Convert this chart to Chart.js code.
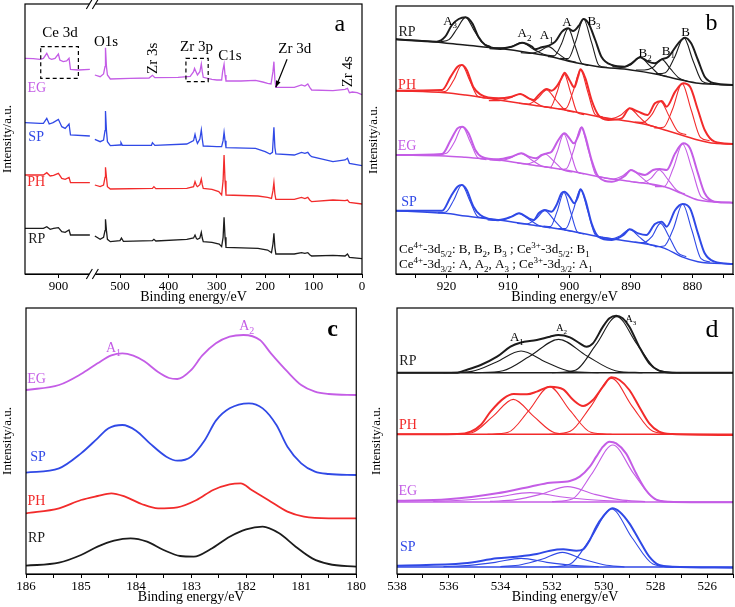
<!DOCTYPE html>
<html>
<head>
<meta charset="utf-8">
<script src="https://cdn.jsdelivr.net/npm/chart.js@4.4.1/dist/chart.umd.min.js"></script>
<style>
body { margin: 0; background: #fff; width: 735px; height: 607px; position: relative; overflow: hidden; }
canvas { position: absolute; }
</style>
</head>
<body>
<canvas id="pa" style="left:0;top:0" width="367" height="306"></canvas>
<canvas id="pb" style="left:366px;top:0" width="369" height="306"></canvas>
<canvas id="pc" style="left:0;top:300px" width="367" height="306"></canvas>
<canvas id="pd" style="left:366px;top:300px" width="369" height="306"></canvas>
<script>
// colours of the four samples
const RP_C = '#1c1c1c', PH_C = '#f22b2b', EG_C = '#c45de6', SP_C = '#3049e6';

// ---- panel a : survey spectra, [binding energy, intensity] ----
const surveyTicks = [900, 500, 450, 400, 350, 300, 250, 200, 150, 100, 50, 0];
const egLeft = [[969,647],[952,646],[938,644],[931,647],[924,662],[919,647],[914,644],[907,647],[900,660],[897,642],[890,637],[883,639],[878,647],[875,614],[859,612],[835,614]];
const egRight = [[552,597],[541,592],[534,600],[531,622],[530,679],[528,622],[526,597],[520,585],[480,587],[440,588],[433,596],[428,589],[380,590],[355,593],[348,607],[346,617],[343,607],[340,597],[335,607],[332,630],[330,607],[328,590],[310,584],[300,582],[290,582],[288,607],[285,629],[283,597],[281,579],[250,579],[220,581],[205,576],[195,572],[188,570],[184,607],[182,637],[180,582],[178,560],[140,560],[125,567],[118,564],[112,570],[108,560],[104,552],[60,550],[35,554],[30,557],[26,544],[20,546],[10,544],[0,538]];
const spLeft = [[969,454],[938,452],[931,452],[924,467],[919,450],[911,454],[900,464],[893,442],[886,437],[878,450],[875,417],[835,414]];
const spRight = [[552,404],[541,397],[534,402],[531,430],[530,489],[528,430],[526,397],[520,385],[500,387],[498,394],[495,386],[435,386],[433,394],[428,386],[362,390],[348,400],[345,419],[342,400],[340,392],[335,405],[332,432],[330,405],[328,384],[310,383],[300,382],[290,382],[287,400],[285,425],[283,400],[281,379],[220,377],[200,367],[190,360],[185,365],[182,440],[180,380],[178,360],[140,357],[125,365],[118,362],[112,365],[108,357],[104,352],[60,337],[35,342],[30,347],[26,332],[0,325]];
const phLeft = [[969,297],[931,297],[924,304],[917,294],[910,296],[900,302],[893,287],[886,284],[878,290],[875,274],[835,274]];
const phRight = [[552,267],[541,262],[534,267],[531,290],[530,320],[528,290],[526,262],[520,255],[433,257],[430,262],[426,256],[362,257],[348,262],[345,277],[342,265],[340,262],[335,268],[332,285],[330,268],[328,257],[310,254],[296,247],[290,237],[287,280],[285,357],[283,280],[281,237],[215,234],[195,230],[187,227],[184,250],[182,274],[180,240],[178,224],[140,224],[125,230],[118,226],[112,230],[108,222],[104,217],[60,222],[35,220],[30,222],[26,215],[0,210]];
const rpLeft = [[969,137],[931,137],[924,142],[917,134],[910,137],[900,139],[893,127],[886,125],[878,132],[875,117],[835,117]];
const rpRight = [[552,114],[541,104],[534,110],[531,130],[530,164],[528,130],[526,104],[520,97],[500,100],[497,108],[493,98],[433,100],[430,104],[426,99],[362,104],[348,108],[345,117],[342,106],[340,104],[335,108],[332,125],[330,108],[328,97],[310,95],[295,90],[290,82],[287,110],[285,170],[283,110],[281,80],[215,77],[195,72],[187,64],[184,90],[182,122],[180,80],[178,60],[140,60],[125,64],[118,62],[112,64],[108,58],[104,54],[60,56],[35,54],[30,60],[26,50],[0,46]];

// ---- panel b : Ce 3d, background, envelope and fitted peaks (A3,A2,A1,A,B3,B2,B1,B) ----
const ceTicks = [925, 920, 915, 910, 905, 900, 895, 890, 885, 880, 875];
const ceRpBg = [[928.2,704],[922.3,697],[917,687],[911.5,677],[906,662],[903,652],[898.5,632],[895.3,622],[890,612],[886,600],[881.8,582],[879,572],[873.4,567]];
const ceRpEnv = [[928.2,704],[921.6,697],[920.2,712],[919.1,747],[918,765],[916.9,770],[915.8,752],[914.8,712],[913.7,687],[911.5,677],[909.4,682],[907.7,694],[906.1,682],[905.6,674],[904.5,680],[903.4,685],[902.3,697],[901.2,727],[900.2,737],[899.4,729],[898.5,744],[897.7,765],[896.9,752],[895.8,702],[894.8,652],[893.1,627],[891,622],[889.9,632],[888.5,650],[887.2,637],[886.1,632],[885,644],[883.9,652],[882.3,692],[881.2,709],[880.2,692],[879.1,642],[878,592],[876.4,572],[873.4,567]];
const ceRpPeaks = [
  [[921,697],[919.6,703],[918.3,735],[916.9,770],[915.5,731],[914.2,695],[912.8,682]],
  [[913,676],[911.2,674],[909.5,682],[907.7,694],[905.9,675],[904.2,659],[902.5,654]],
  [[907.9,664],[906.4,662],[904.9,668],[903.4,682],[901.9,662],[900.4,643],[898.9,635]],
  [[903.5,652],[902.4,655],[901.3,690],[900.2,737],[899.1,686],[898,632],[896.9,626]],
  [[901.5,647],[900.2,646],[899,697],[897.7,765],[896.4,695],[895.2,626],[893.9,620]],
  [[893,622],[891.5,620],[890,628],[888.5,650],[887,626],[885.5,600],[884,592]],
  [[889.2,612],[887.8,612],[886.4,620],[885,644],[883.6,616],[882.2,588],[880.8,578]],
  [[885.9,601],[884.4,604],[882.9,650],[881.4,709],[879.9,640],[878.4,578],[876.9,571]]
];
const cePhBg = [[928.2,550],[920.2,544],[916.9,537],[911.5,522],[906.1,507],[900.7,492],[895.3,472],[889.9,457],[887.2,447],[884.5,432],[881.8,417],[879.1,402],[876.4,392],[873.4,390]];
const cePhEnv = [[928.2,550],[920.7,552],[919.3,592],[918.2,622],[917.5,627],[916.7,612],[915.6,560],[914.5,539],[911.5,527],[909.4,532],[908,540],[906.6,527],[905.8,522],[905,537],[903.7,555],[902.9,550],[902.1,562],[901,597],[900.8,604],[900,582],[899.2,560],[898.6,592],[898.2,614],[897.4,587],[896.4,522],[895.3,477],[893.7,462],[891.5,467],[890.2,497],[888.8,487],[887.3,477],[886.1,512],[885,519],[884.2,502],[882.8,547],[881.5,572],[880.4,562],[879.1,492],[878,432],[876.4,397],[873.4,390]];
const cePhPeaks = [
  [[921.4,545],[920.1,548],[918.8,582],[917.5,627],[916.2,580],[914.9,533],[913.6,528]],
  [[913.1,520],[911.4,520],[909.7,528],[908,540],[906.3,524],[904.6,505],[902.9,498]],
  [[908.2,512],[906.7,510],[905.2,526],[903.7,552],[902.2,522],[900.7,492],[899.2,486]],
  [[904.2,502],[903.1,500],[902,546],[900.9,602],[899.8,544],[898.7,484],[897.6,478]],
  [[901.8,495],[900.6,496],[899.4,548],[898.2,612],[897,545],[895.8,478],[894.6,472]],
  [[894.7,468],[893.2,466],[891.7,476],[890.2,497],[888.7,472],[887.2,448],[885.7,440]],
  [[889.4,456],[888,455],[886.6,478],[885.2,518],[883.8,474],[882.4,428],[881,418]],
  [[886.2,438],[884.7,440],[883.2,496],[881.7,572],[880.2,492],[878.7,410],[877.2,400]]
];
const ceEgBg = [[928.2,357],[920.2,354],[916.9,350],[911.5,342],[906.1,327],[900.7,312],[895.3,292],[889.9,277],[884.5,262],[881.8,242],[879.1,222],[873.4,214]];
const ceEgEnv = [[928.2,357],[920.7,360],[919.3,402],[918.2,437],[917.4,442],[916.4,422],[915.3,372],[914.3,352],[911.5,344],[909.4,352],[907.8,362],[906.6,352],[905.5,347],[904.5,357],[903.7,362],[902.9,367],[901.8,402],[900.8,422],[900,407],[899.3,392],[898.5,417],[898,440],[897.4,412],[896.4,342],[895.3,292],[893.1,277],[891,294],[890,312],[888.8,302],[887.7,297],[886.4,312],[885.3,315],[884.2,312],[882.8,362],[881.5,392],[880.4,377],[879.1,302],[878,242],[876.4,217],[873.4,214]];
const ceEgPeaks = [
  [[921.3,358],[920,362],[918.7,396],[917.4,442],[916.1,395],[914.8,347],[913.5,343]],
  [[913,342],[911.3,340],[909.6,348],[907.9,362],[906.2,343],[904.5,324],[902.8,318]],
  [[908.5,333],[907,330],[905.5,340],[904,360],[902.5,338],[901,312],[899.5,306]],
  [[904.2,322],[903.1,320],[902,366],[900.9,420],[899.8,364],[898.7,306],[897.6,300]],
  [[901.7,314],[900.5,316],[899.3,372],[898.1,440],[896.9,370],[895.7,298],[894.5,290]],
  [[894.4,288],[892.9,285],[891.4,294],[889.9,312],[888.4,292],[886.9,270],[885.4,264]],
  [[889.6,276],[888.2,274],[886.8,286],[885.4,312],[884,284],[882.6,252],[881.2,240]],
  [[886.1,262],[884.6,262],[883.1,318],[881.6,390],[880.1,316],[878.6,232],[877.1,220]]
];
const ceSpBg = [[928.2,190],[920.2,182],[916.9,174],[911.5,162],[906.1,147],[900.7,132],[895.3,112],[889.9,97],[884.5,77],[881.8,52],[879.1,37],[873.4,30]];
const ceSpEnv = [[928.2,190],[920.7,190],[919.3,232],[918.2,262],[917.5,267],[916.7,252],[915.6,202],[914.5,177],[911.5,162],[909.4,172],[908.2,182],[906.6,167],[905.8,162],[905,182],[904,192],[902.9,187],[902.1,207],[901.3,242],[900.8,247],[900,232],[899.2,212],[898.6,232],[898.2,254],[897.4,222],[896.4,152],[895.3,112],[893.1,102],[891.2,117],[890.2,134],[888.8,122],[887.5,117],[886.1,150],[885,157],[884.2,142],[882.8,192],[881.6,210],[880.4,197],[879.1,122],[878,62],[876.4,37],[873.4,30]];
const ceSpPeaks = [
  [[921.4,184],[920.1,186],[918.8,222],[917.5,267],[916.2,220],[914.9,172],[913.6,168]],
  [[913.3,162],[911.6,160],[909.9,168],[908.2,182],[906.5,163],[904.8,144],[903.1,138]],
  [[908.5,152],[907,150],[905.5,164],[904,190],[902.5,162],[901,134],[899.5,128]],
  [[904.2,144],[903.1,142],[902,188],[900.9,245],[899.8,186],[898.7,126],[897.6,120]],
  [[901.8,136],[900.6,136],[899.4,190],[898.2,254],[897,188],[895.8,118],[894.6,110]],
  [[894.7,110],[893.2,106],[891.7,115],[890.2,134],[888.7,112],[887.2,90],[885.7,82]],
  [[889.4,96],[888,94],[886.6,112],[885.2,152],[883.8,112],[882.4,64],[881,52]],
  [[886.1,82],[884.6,84],[883.1,136],[881.6,210],[880.1,132],[878.6,46],[877.1,36]]
];

// ---- panel c : Zr 3d ----
const zrTicks = [186, 185.5, 185, 184.5, 184, 183.5, 183, 182.5, 182, 181.5, 181, 180.5, 180];
const zrEG = [[186,552],[185.4,567],[185,600],[184.7,632],[184.45,656],[184.25,662],[184.05,655],[183.85,638],[183.6,606],[183.4,588],[183.25,585],[183,612],[182.8,655],[182.55,692],[182.3,712],[182.05,717],[181.75,702],[181.55,662],[181.25,607],[181,567],[180.75,547],[180.5,540],[180,537]];
const zrSP = [[186,304],[185.4,317],[185,362],[184.7,407],[184.5,437],[184.25,447],[184,430],[183.75,392],[183.45,352],[183.25,340],[183,352],[182.75,402],[182.55,460],[182.3,497],[181.95,512],[181.7,497],[181.45,447],[181.25,382],[181,332],[180.75,307],[180.5,300],[180,297]];
const zrPH = [[186,182],[185.4,197],[185,222],[184.7,234],[184.45,242],[184.2,232],[183.9,210],[183.6,197],[183.25,200],[182.9,222],[182.6,252],[182.3,269],[182.1,272],[181.9,252],[181.6,222],[181.25,187],[180.95,172],[180.5,167],[180,167]];
const zrRP = [[186,25],[185.4,34],[185,57],[184.7,82],[184.4,100],[184.1,107],[183.8,97],[183.5,72],[183.2,54],[182.95,52],[182.65,74],[182.3,112],[182,134],[181.7,142],[181.4,122],[181.1,82],[180.8,47],[180.5,30],[180,22]];

// ---- panel d : O 1s, envelope, peaks (A1,A2,A3) and flat baselines ----
const oTicks = [538, 537, 536, 535, 534, 533, 532, 531, 530, 529, 528, 527, 526, 525];
const oBase = [604, 419, 216, 21]; // RP, PH, EG, SP
const oRpEnv = [[538,604],[535.66,604],[535.4,610],[534.76,627],[534.13,652],[533.61,682],[533.23,694],[532.59,702],[532.08,712],[531.76,717],[531.31,710],[530.93,692],[530.67,682],[530.42,692],[530.03,742],[529.78,767],[529.52,775],[529.27,767],[529.01,742],[528.63,682],[528.24,632],[527.86,610],[527.35,604],[525,604]];
const oRpPeaks = [
  [[536.2,604],[535.1,608],[534.15,636],[533.2,669],[532.25,636],[531.3,608],[530.2,604]],
  [[535,604],[533.9,610],[532.85,654],[531.75,704],[530.65,654],[529.55,610],[528.5,604]],
  [[532,604],[531.1,611],[530.3,688],[529.5,772],[528.7,688],[527.9,611],[527,604]]
];
const oPhEnv = [[538,419],[535.66,420],[535.15,427],[534.76,447],[534.38,487],[533.87,527],[533.49,540],[532.97,539],[532.59,547],[532.08,562],[531.57,554],[531.18,522],[530.8,504],[530.42,522],[530.03,562],[529.71,590],[529.39,582],[529.01,552],[528.63,502],[528.24,452],[527.86,427],[527.35,420],[525,417]];
const oPhPeaks = [
  [[535.9,419],[535.1,424],[534.3,472],[533.5,524],[532.7,472],[531.9,424],[531.1,419]],
  [[534.5,419],[533.7,425],[532.9,490],[532.1,562],[531.3,490],[530.5,425],[529.7,419]],
  [[532.1,419],[531.3,428],[530.5,503],[529.7,587],[528.9,503],[528.1,428],[527.3,419]]
];
const oEgEnv = [[538,220],[536.04,224],[534.13,242],[532.85,262],[532.08,274],[531.31,279],[530.93,292],[530.54,322],[530.29,352],[530.03,382],[529.78,397],[529.52,392],[529.14,362],[528.75,302],[528.37,252],[527.99,224],[527.48,217],[525,215]];
const oEgPeaks = [
  [[536.6,218],[535.35,222],[534.1,231],[532.85,244],[531.6,231],[530.35,222],[529.1,218]],
  [[534.4,218],[533.4,223],[532.4,240],[531.4,262],[530.4,240],[529.4,223],[528.4,217]],
  [[532,217],[531.2,226],[530.45,302],[529.65,387],[528.85,302],[528.05,226],[527.3,216]]
];
const oSpEnv = [[538,25],[535.4,32],[534.13,47],[533.36,52],[532.59,60],[532.08,70],[531.57,74],[531.06,70],[530.8,74],[530.54,102],[530.29,142],[530.03,172],[529.67,197],[529.39,187],[529.01,152],[528.63,102],[528.24,52],[527.86,27],[527.35,22],[525,19]];
const oSpPeaks = [
  [[536.2,22],[535.2,26],[534.2,35],[533.2,47],[532.2,35],[531.2,26],[530.2,22]],
  [[534,22],[533.2,28],[532.4,44],[531.6,65],[530.8,44],[530,28],[529.2,21]],
  [[532.1,21],[531.3,30],[530.5,108],[529.7,195],[528.9,108],[528.1,30],[527.3,20]]
];

Chart.defaults.font.family = '"Liberation Serif", "Times New Roman", serif';
Chart.defaults.color = '#000';

const FONT = '"Liberation Serif", serif';

// the survey axis is broken between ~835 and ~552 eV
function brk(e) {
  return e >= 700 ? 969 - e : 696.3 - e;
}

function pts(arr, fx) {
  return arr.map(p => ({ x: fx ? fx(p[0]) : p[0], y: p[1] }));
}

function line(arr, color, width, smooth, fx) {
  return {
    data: pts(arr, fx),
    borderColor: color,
    borderWidth: width,
    pointRadius: 0,
    fill: false,
    tension: smooth ? 0.4 : 0,
    cubicInterpolationMode: smooth ? 'monotone' : 'default'
  };
}

// text with _sub and ^sup parts, centred (or left aligned) on x, y
function rich(ctx, parts, x, y, size, color, align) {
  ctx.save();
  ctx.fillStyle = color;
  ctx.textBaseline = 'alphabetic';
  ctx.textAlign = 'left';
  const segs = parts.map(p => {
    let k = 'n', t = p;
    if (p[0] === '_') { k = 'b'; t = p.slice(1); }
    else if (p[0] === '^') { k = 'p'; t = p.slice(1); }
    const fs = k === 'n' ? size : Math.round(size * 0.68);
    ctx.font = fs + 'px ' + FONT;
    return { t: t, k: k, fs: fs, w: ctx.measureText(t).width };
  });
  const total = segs.reduce((a, s) => a + s.w, 0);
  let cx = align === 'left' ? x : x - total / 2;
  for (const s of segs) {
    ctx.font = s.fs + 'px ' + FONT;
    const dy = s.k === 'b' ? size * 0.3 : (s.k === 'p' ? -size * 0.4 : 0);
    ctx.fillText(s.t, cx, y + size * 0.35 + dy);
    cx += s.w;
  }
  ctx.restore();
}

function label(ctx, text, x, y, size, color, rot, weight) {
  ctx.save();
  ctx.font = (weight || '') + ' ' + size + 'px ' + FONT;
  ctx.fillStyle = color;
  ctx.textAlign = 'center';
  ctx.textBaseline = 'middle';
  ctx.translate(x, y);
  if (rot) ctx.rotate(rot);
  ctx.fillText(text, 0, 0);
  ctx.restore();
}

function frame(chart) {
  const a = chart.chartArea, ctx = chart.ctx;
  ctx.save();
  ctx.strokeStyle = '#000';
  ctx.lineWidth = 1.2;
  ctx.strokeRect(a.left, a.top, a.right - a.left, a.bottom - a.top);
  ctx.restore();
}

function panel(id, cfg) {
  return new Chart(document.getElementById(id), {
    type: 'line',
    data: { datasets: cfg.datasets },
    options: {
      responsive: false,
      animation: false,
      devicePixelRatio: 1,
      layout: { padding: { top: cfg.pad[0], right: cfg.pad[1], bottom: 0, left: 0 } },
      plugins: { legend: { display: false }, tooltip: { enabled: false } },
      scales: {
        x: {
          type: 'linear', min: cfg.xmin, max: cfg.xmax, reverse: cfg.rev,
          afterBuildTicks: s => { s.ticks = cfg.ticks.map(v => ({ value: v })); },
          afterFit: s => { s.height = cfg.xh; },
          ticks: { autoSkip: false, maxRotation: 0, padding: 1, color: '#000', font: { size: 13 }, callback: cfg.tickLabel },
          grid: { drawOnChartArea: false, drawTicks: true, tickLength: 4, color: '#000' },
          border: { display: true, color: '#000' },
          title: { display: true, text: 'Binding energy/eV', color: '#000', font: { size: 14 }, padding: 0 }
        },
        y: {
          min: 0, max: cfg.ymax,
          afterFit: s => { s.width = cfg.yw; },
          ticks: { display: false },
          grid: { display: false },
          border: { display: false },
          title: { display: true, text: 'Intensity/a.u.', color: '#000', font: { size: 13 }, padding: { top: cfg.ytp || 0, bottom: 0 } }
        }
      }
    },
    plugins: [{ id: 'deco', afterDraw: cfg.deco }]
  });
}

// ---------- a ----------
const surveySets = [];
[[egLeft, egRight, EG_C], [spLeft, spRight, SP_C], [phLeft, phRight, PH_C], [rpLeft, rpRight, RP_C]].forEach(s => {
  surveySets.push(line(s[0], s[2], 1.3, false, brk));
  surveySets.push(line(s[1], s[2], 1.3, false, brk));
});
panel('pa', {
  datasets: surveySets,
  xmin: 0, xmax: 696.3, rev: false,
  ticks: surveyTicks.map(brk),
  tickLabel: v => {
    const e = surveyTicks.find(t => Math.abs(brk(t) - v) < 1e-6);
    return e !== undefined && e % 100 === 0 ? String(e) : '';
  },
  ymax: 810, yw: 25, xh: 32, pad: [4, 5],
  deco: chart => {
    const ctx = chart.ctx, x = chart.scales.x, y = chart.scales.y, a = chart.chartArea;
    frame(chart);
    const X = e => x.getPixelForValue(brk(e)), Y = v => y.getPixelForValue(v);
    // axis break
    const gx = (X(835) + X(552)) / 2;
    ctx.save();
    ctx.fillStyle = '#fff';
    ctx.fillRect(gx - 3, a.top - 2, 6, 4);
    ctx.fillRect(gx - 3, a.bottom - 2, 6, 4);
    ctx.strokeStyle = '#000';
    ctx.lineWidth = 1.1;
    [a.top, a.bottom].forEach(yy => {
      [-3, 3].forEach(dx => {
        ctx.beginPath();
        ctx.moveTo(gx + dx - 3, yy + 5);
        ctx.lineTo(gx + dx + 3, yy - 5);
        ctx.stroke();
      });
    });
    // dashed boxes
    ctx.setLineDash([4, 3]);
    ctx.lineWidth = 1.2;
    ctx.strokeRect(X(936.5), Y(682), X(858.7) - X(936.5), Y(587) - Y(682));
    ctx.strokeRect(X(363.8), Y(647), X(317.8) - X(363.8), Y(577) - Y(647));
    ctx.setLineDash([]);
    // arrow to Zr 3d
    const x0 = X(154.8), y0 = Y(644), x1 = X(178.1), y1 = Y(560);
    ctx.beginPath(); ctx.moveTo(x0, y0); ctx.lineTo(x1, y1); ctx.stroke();
    const ang = Math.atan2(y1 - y0, x1 - x0);
    ctx.beginPath();
    ctx.moveTo(x1, y1);
    ctx.lineTo(x1 - 7 * Math.cos(ang - 0.35), y1 - 7 * Math.sin(ang - 0.35));
    ctx.lineTo(x1 - 7 * Math.cos(ang + 0.35), y1 - 7 * Math.sin(ang + 0.35));
    ctx.closePath(); ctx.fillStyle = '#000'; ctx.fill();
    ctx.restore();
    label(ctx, 'Ce 3d', X(896.6), Y(722), 15, '#000');
    label(ctx, 'O1s', X(528.9), Y(697), 15, '#000');
    label(ctx, 'Zr 3s', X(431.2), Y(647), 15, '#000', -Math.PI / 2);
    label(ctx, 'Zr 3p', X(341.8), Y(682), 15, '#000');
    label(ctx, 'C1s', X(273), Y(654), 15, '#000');
    label(ctx, 'Zr 3d', X(138.9), Y(674), 15, '#000');
    label(ctx, 'Zr 4s', X(28.9), Y(607), 15, '#000', -Math.PI / 2);
    label(ctx, 'a', X(46), Y(747), 24, '#000');
    label(ctx, 'EG', X(944.7), Y(557), 14, EG_C);
    label(ctx, 'SP', X(946), Y(410), 14, SP_C);
    label(ctx, 'PH', X(946), Y(275), 14, PH_C);
    label(ctx, 'RP', X(944.7), Y(104), 14, RP_C);
  }
});

// ---------- b ----------
const ceSets = [];
[[ceRpBg, ceRpEnv, ceRpPeaks, RP_C], [cePhBg, cePhEnv, cePhPeaks, PH_C], [ceEgBg, ceEgEnv, ceEgPeaks, EG_C], [ceSpBg, ceSpEnv, ceSpPeaks, SP_C]].forEach(s => {
  ceSets.push(line(s[0], s[3], 1.5, true));
  s[2].forEach(p => ceSets.push(line(p, s[3], 1.1, true)));
  ceSets.push(line(s[1], s[3], 2, true));
});
panel('pb', {
  datasets: ceSets,
  xmin: 873.4, xmax: 928.2, rev: true,
  ticks: ceTicks,
  tickLabel: v => (v % 10 === 0 ? String(v) : ''),
  ymax: 804, yw: 30, xh: 32, pad: [6, 2],
  deco: chart => {
    const ctx = chart.ctx, x = chart.scales.x, y = chart.scales.y;
    frame(chart);
    const X = e => x.getPixelForValue(e), Y = v => y.getPixelForValue(v);
    label(ctx, 'RP', X(926.4), Y(725), 14, RP_C);
    label(ctx, 'PH', X(926.4), Y(567), 14, PH_C);
    label(ctx, 'EG', X(926.4), Y(382), 14, EG_C);
    label(ctx, 'SP', X(926.1), Y(214), 14, SP_C);
    rich(ctx, ['A', '_3'], X(919.4), Y(762), 13, '#000');
    rich(ctx, ['A', '_2'], X(907.3), Y(725), 13, '#000');
    rich(ctx, ['A', '_1'], X(903.7), Y(719), 13, '#000');
    rich(ctx, ['A'], X(900.4), Y(757), 13, '#000');
    rich(ctx, ['B', '_3'], X(896), Y(760), 13, '#000');
    rich(ctx, ['B', '_2'], X(887.7), Y(665), 13, '#000');
    rich(ctx, ['B', '_1'], X(883.9), Y(672), 13, '#000');
    rich(ctx, ['B'], X(881.1), Y(729), 13, '#000');
    label(ctx, 'b', X(876.9), Y(752), 24, '#000');
    rich(ctx, ['Ce', '^4+', '-3d', '_5/2', ': B, B', '_2', ', B', '_3', ' ; Ce', '^3+', '-3d', '_5/2', ': B', '_1'], X(927.7), Y(77), 13, '#000', 'left');
    rich(ctx, ['Ce', '^4+', '-3d', '_3/2', ': A, A', '_2', ', A', '_3', ' ; Ce', '^3+', '-3d', '_3/2', ': A', '_1'], X(927.7), Y(32), 13, '#000', 'left');
  }
});

// ---------- c ----------
panel('pc', {
  datasets: [line(zrEG, EG_C, 1.8, true), line(zrSP, SP_C, 1.8, true), line(zrPH, PH_C, 1.8, true), line(zrRP, RP_C, 1.8, true)],
  xmin: 180, xmax: 186, rev: true,
  ticks: zrTicks,
  tickLabel: v => (Number.isInteger(v) ? String(v) : ''),
  ymax: 798, yw: 26, xh: 32, pad: [8, 5],
  deco: chart => {
    const ctx = chart.ctx, x = chart.scales.x, y = chart.scales.y;
    frame(chart);
    const X = e => x.getPixelForValue(e), Y = v => y.getPixelForValue(v);
    label(ctx, 'EG', X(185.81), Y(585), 14, EG_C);
    label(ctx, 'SP', X(185.78), Y(350), 14, SP_C);
    label(ctx, 'PH', X(185.81), Y(217), 14, PH_C);
    label(ctx, 'RP', X(185.81), Y(107), 14, RP_C);
    rich(ctx, ['A', '_1'], X(184.41), Y(682), 14, EG_C);
    rich(ctx, ['A', '_2'], X(181.99), Y(747), 14, EG_C);
    label(ctx, 'c', X(180.43), Y(734), 24, '#000', 0, 'bold');
  }
});

// ---------- d ----------
const oSets = [];
[[oRpEnv, oRpPeaks, RP_C, oBase[0]], [oPhEnv, oPhPeaks, PH_C, oBase[1]], [oEgEnv, oEgPeaks, EG_C, oBase[2]], [oSpEnv, oSpPeaks, SP_C, oBase[3]]].forEach(s => {
  oSets.push(line([[538, s[3]], [525, s[3]]], s[2], 1.5, false));
  s[1].forEach(p => oSets.push(line(p, s[2], 1.1, true)));
  oSets.push(line(s[0], s[2], 2, true));
});
panel('pd', {
  datasets: oSets,
  xmin: 525, xmax: 538, rev: true,
  ticks: oTicks,
  tickLabel: v => (v % 2 === 0 ? String(v) : ''),
  ymax: 798, yw: 31, xh: 32, pad: [8, 2], ytp: 3,
  deco: chart => {
    const ctx = chart.ctx, x = chart.scales.x, y = chart.scales.y;
    frame(chart);
    const X = e => x.getPixelForValue(e), Y = v => y.getPixelForValue(v);
    label(ctx, 'RP', X(537.58), Y(637), 14, RP_C);
    label(ctx, 'PH', X(537.58), Y(447), 14, PH_C);
    label(ctx, 'EG', X(537.58), Y(247), 14, EG_C);
    label(ctx, 'SP', X(537.58), Y(80), 14, SP_C);
    rich(ctx, ['A', '_1'], X(533.36), Y(712), 13, '#000');
    rich(ctx, ['A', '_2'], X(531.63), Y(740), 10, '#000');
    rich(ctx, ['A', '_3'], X(528.95), Y(767), 10, '#000');
    label(ctx, 'd', X(525.81), Y(732), 26, '#000');
  }
});
</script>
</body>
</html>
